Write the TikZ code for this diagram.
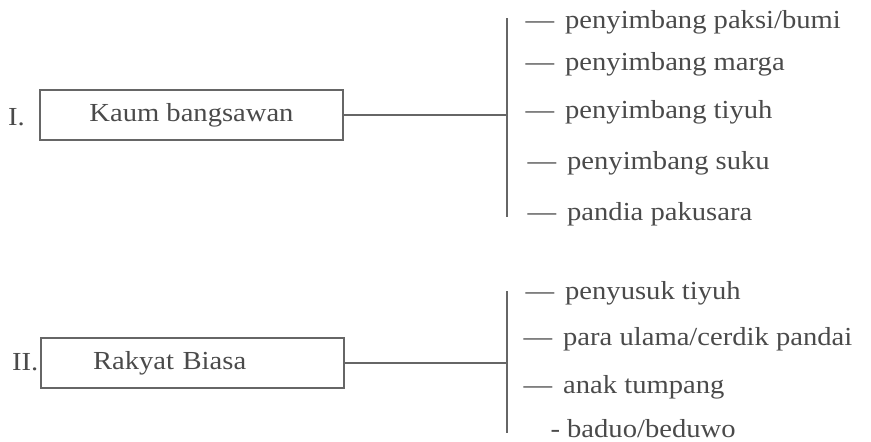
\documentclass[tikz,border=0pt]{standalone}
\usepackage{fontspec}
\setmainfont{Liberation Serif}[FakeStretch=1.1]
\definecolor{ink}{HTML}{4A4A4A}
\definecolor{rule}{HTML}{666666}
\newcommand{\ldash}{\llap{—\hspace{11pt}}}
\begin{document}
\begin{tikzpicture}[x=1pt,y=-1pt,
  every node/.style={text=ink, font=\fontsize{26}{30}\selectfont},
  box/.style={draw=rule, line width=1.3pt, minimum width=303pt, minimum height=50pt, inner sep=0pt},
  lbl/.style={anchor=mid west, inner sep=0pt, yshift=-5pt},
  conn/.style={draw=rule, line width=1.4pt}]
\useasboundingbox (0,0) rectangle (871,442);
% group I
\node[box] (b1) at (191.5,115) {\raisebox{-2pt}{Kaum bangsawan}};
\node[lbl] (r1) at (8,118) {I.};
\coordinate (v1t) at (507,18);
\coordinate (v1b) at (507,217);
\draw[conn] (v1t) -- (v1b);
\draw[conn] (b1.east) -- (b1.east -| v1t);
\node[lbl] (a1) at (565,21) {\ldash penyimbang paksi/bumi};
\node[lbl] (a2) at (565,63) {\ldash penyimbang marga};
\node[lbl] (a3) at (565,111) {\ldash penyimbang tiyuh};
\node[lbl] (a4) at (567,162) {\ldash penyimbang suku};
\node[lbl] (a5) at (567,213) {\ldash pandia pakusara};
% group II
\node[box, text width=199pt, inner xsep=52pt, align=left] (b2) at (192.5,363) {\raisebox{-2pt}{Rakyat Biasa}};
\node[lbl] (r2) at (12,363) {II.};
\coordinate (v2t) at (507,291);
\coordinate (v2b) at (507,433);
\draw[conn] (v2t) -- (v2b);
\draw[conn] (b2.east) -- (b2.east -| v2t);
\node[lbl] (c1) at (565,292) {\ldash penyusuk tiyuh};
\node[lbl] (c2) at (563,338) {\ldash para ulama/cerdik pandai};
\node[lbl] (c3) at (563,386) {\ldash anak tumpang};
\node[lbl] (c4) at (567,430) {\llap{-\ }baduo/beduwo};
\end{tikzpicture}
\end{document}
